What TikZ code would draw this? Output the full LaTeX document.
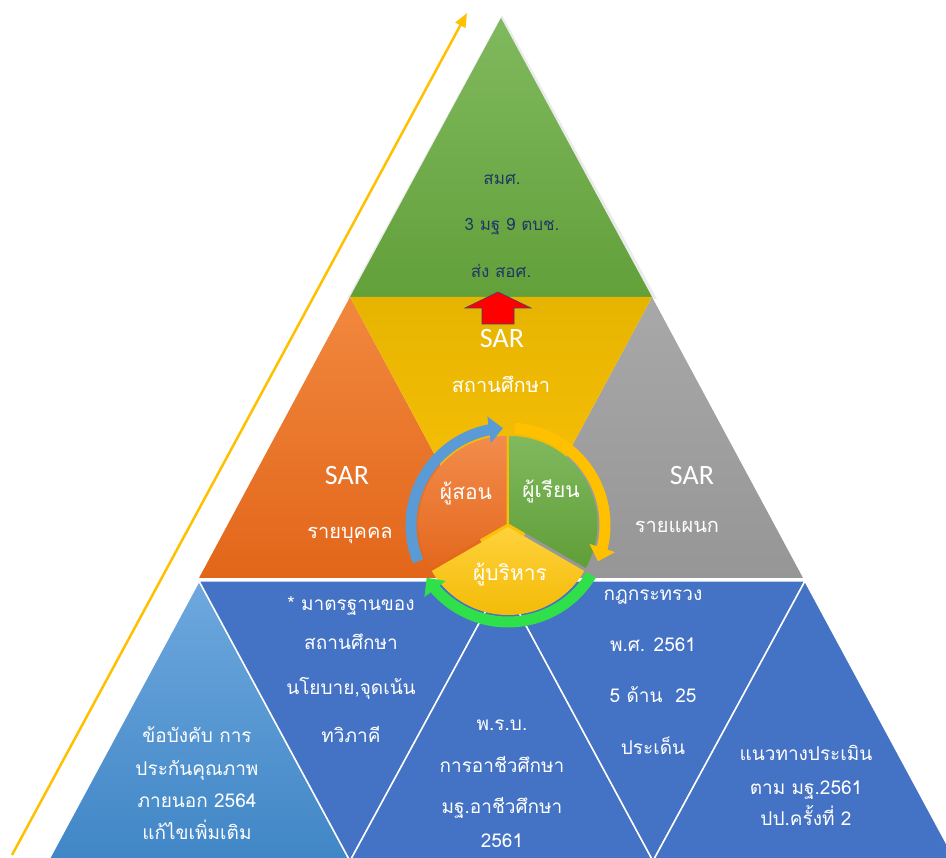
\documentclass[tikz,border=0pt]{standalone}
\usepackage{fontspec}
\setmainfont{Carlito}
\newfontfamily\thaifont[Script=Thai]{Loma}
\usetikzlibrary{arrows.meta,bending}

\definecolor{risecol}{HTML}{FFC000}
\definecolor{navytext}{HTML}{203864}
\definecolor{rowblue}{HTML}{4472C4}
\definecolor{arcblue}{HTML}{5B9BD5}
\definecolor{arcyellow}{HTML}{FFC000}
\definecolor{arcgreen}{HTML}{30E04A}

\tikzset{
  thaiwhite/.style={font=\thaifont\fontsize{19}{22}\selectfont, text=white, anchor=mid, inner sep=0pt},
  thainavy/.style={font=\thaifont\fontsize{17}{20}\selectfont, text=navytext, anchor=mid, inner sep=0pt},
  sartext/.style={font=\fontsize{28}{32}\selectfont, text=white, anchor=mid, inner sep=0pt},
  bluetri/.style={fill=rowblue, draw=white, line width=1.5pt},
  ringarrow/.style={line width=11pt, -{Triangle[length=14pt,width=26pt]}}
}

\begin{document}
\begin{tikzpicture}[x=1pt,y=1pt]

	\useasboundingbox (0,0) rectangle (946,858);
	\clip (0,0) rectangle (946,858);

	\fill[black!8] (502,843) -- (347,559) -- (657,559) -- cycle;
	\shade[top color={rgb,255:red,128;green,185;blue,94}, bottom color={rgb,255:red,98;green,160;blue,58}]
	(501,840) -- (350,561) -- (652,561) -- cycle;

	\shade[top color={rgb,255:red,241;green,136;blue,62}, bottom color={rgb,255:red,226;green,102;blue,26}]
	(350,561) -- (199,280) -- (501,280) -- cycle;
	\shade[top color={rgb,255:red,168;green,168;blue,168}, bottom color={rgb,255:red,150;green,150;blue,150}]
	(652,561) -- (501,280) -- (803,280) -- cycle;
	\shade[top color={rgb,255:red,230;green,180;blue,0}, bottom color={rgb,255:red,255;green,196;blue,10}]
	(350,561) -- (652,561) -- (501,280) -- cycle;

	\shade[top color={rgb,255:red,110;green,168;blue,222}, bottom color={rgb,255:red,64;green,134;blue,198}, draw=white, line width=1.5pt]
	(199,277) -- (48,-3) -- (350,-3) -- cycle;
	\draw[bluetri] (199,277) -- (502,277) -- (350,-3) -- cycle;
	\draw[bluetri] (502,277) -- (350,-3) -- (653,-3) -- cycle;
	\draw[bluetri] (502,277) -- (805,277) -- (653,-3) -- cycle;
	\draw[bluetri] (805,277) -- (653,-3) -- (956,-3) -- cycle;

	\draw[fill=red, draw={rgb,255:red,60;green,70;blue,120}, line width=0.6pt]
	(482,534) -- (482,550) -- (465,550) -- (498,566) -- (531,550) -- (514,550) -- (514,534) -- cycle;

	\coordinate (hub) at (508,333);

	\shade[top color={rgb,255:red,242;green,140;blue,76}, bottom color={rgb,255:red,228;green,104;blue,30}]
	(506.5,334) -- ++(90:88) arc[start angle=90, end angle=210, radius=88] -- cycle;
	\shade[top color={rgb,255:red,128;green,185;blue,94}, bottom color={rgb,255:red,96;green,158;blue,56}]
	(509.5,334) -- ++(-30:88) arc[start angle=-30, end angle=90, radius=88] -- cycle;
	\shade[top color={rgb,255:red,255;green,210;blue,60}, bottom color={rgb,255:red,242;green,184;blue,0}]
	(508,331) -- ++(210:88) arc[start angle=210, end angle=330, radius=88] -- cycle;

	\draw[ringarrow, arcblue] (hub) ++(202:97) arc[start angle=202, end angle=93, radius=97];
	\draw[ringarrow, arcyellow] (hub) ++(86:97) arc[start angle=86, end angle=-22, radius=97];
	\draw[ringarrow, arcgreen] (hub) ++(-31:97) arc[start angle=-31, end angle=-147, radius=97];

	\coordinate (risestart) at (12,3);
	\coordinate (riseend) at (467,845);
	\draw[risecol, line width=2.5pt, -{Triangle[length=14pt,width=11pt]}] (risestart) -- (riseend);

	\node(topone) [thainavy] at (502,676) {สมศ.};
	\node(toptwo) [thainavy] at (512,630) {3 มฐ 9 ตบช.};
	\node(topthree) [thainavy] at (501,583) {ส่ง สอศ.};

	\node(schoolsar) [sartext] at (502,513) {SAR};
	\node(schoollabel) [thaiwhite, font=\thaifont\fontsize{20}{24}\selectfont] at (501,468) {สถานศึกษา};
	\node(personsar) [sartext] at (347,376) {SAR};
	\node(personlabel) [thaiwhite, font=\thaifont\fontsize{20}{24}\selectfont] at (350,322) {รายบุคคล};
	\node(deptsar) [sartext] at (692,376) {SAR};
	\node(deptlabel) [thaiwhite, font=\thaifont\fontsize{20}{24}\selectfont] at (677,328) {รายแผนก};

	\node(teacher) [thaiwhite, font=\thaifont\fontsize{21}{24}\selectfont] at (466,361) {ผู้สอน};
	\node(learner) [thaiwhite, font=\thaifont\fontsize{21}{24}\selectfont] at (551,363) {ผู้เรียน};
	\node(admin) [thaiwhite, font=\thaifont\fontsize{21}{24}\selectfont] at (510,280) {ผู้บริหาร};

	\node(extone) [thaiwhite] at (197,118) {ข้อบังคับ การ};
	\node(exttwo) [thaiwhite] at (197,85) {ประกันคุณภาพ};
	\node(extthree) [thaiwhite] at (197,53) {ภายนอก 2564};
	\node(extfour) [thaiwhite] at (197,21) {แก้ไขเพิ่มเติม};

	\node(stdone) [thaiwhite] at (351,250) {* มาตรฐานของ};
	\node(stdtwo) [thaiwhite] at (351,211) {สถานศึกษา};
	\node(stdthree) [thaiwhite] at (351,166) {นโยบาย,จุดเน้น};
	\node(stdfour) [thaiwhite] at (351,118) {ทวิภาคี};

	\node(actone) [thaiwhite] at (502,130) {พ.ร.บ.};
	\node(acttwo) [thaiwhite] at (502,88) {การอาชีวศึกษา};
	\node(actthree) [thaiwhite] at (502,47) {มฐ.อาชีวศึกษา};
	\node(actfour) [thaiwhite] at (502,13) {2561};

	\node(ruleone) [thaiwhite] at (653,260) {กฎกระทรวง};
	\node(ruletwo) [thaiwhite] at (653,209) {พ.ศ. 2561};
	\node(rulethree) [thaiwhite] at (653,158) {5 ด้าน~~25};
	\node(rulefour) [thaiwhite] at (653,106) {ประเด็น};

	\node(guideone) [thaiwhite] at (806,100) {แนวทางประเมิน};
	\node(guidetwo) [thaiwhite] at (806,66) {ตาม มฐ.2561};
	\node(guidethree) [thaiwhite] at (806,35) {ปป.ครั้งที่ 2};

\end{tikzpicture}
\end{document}
